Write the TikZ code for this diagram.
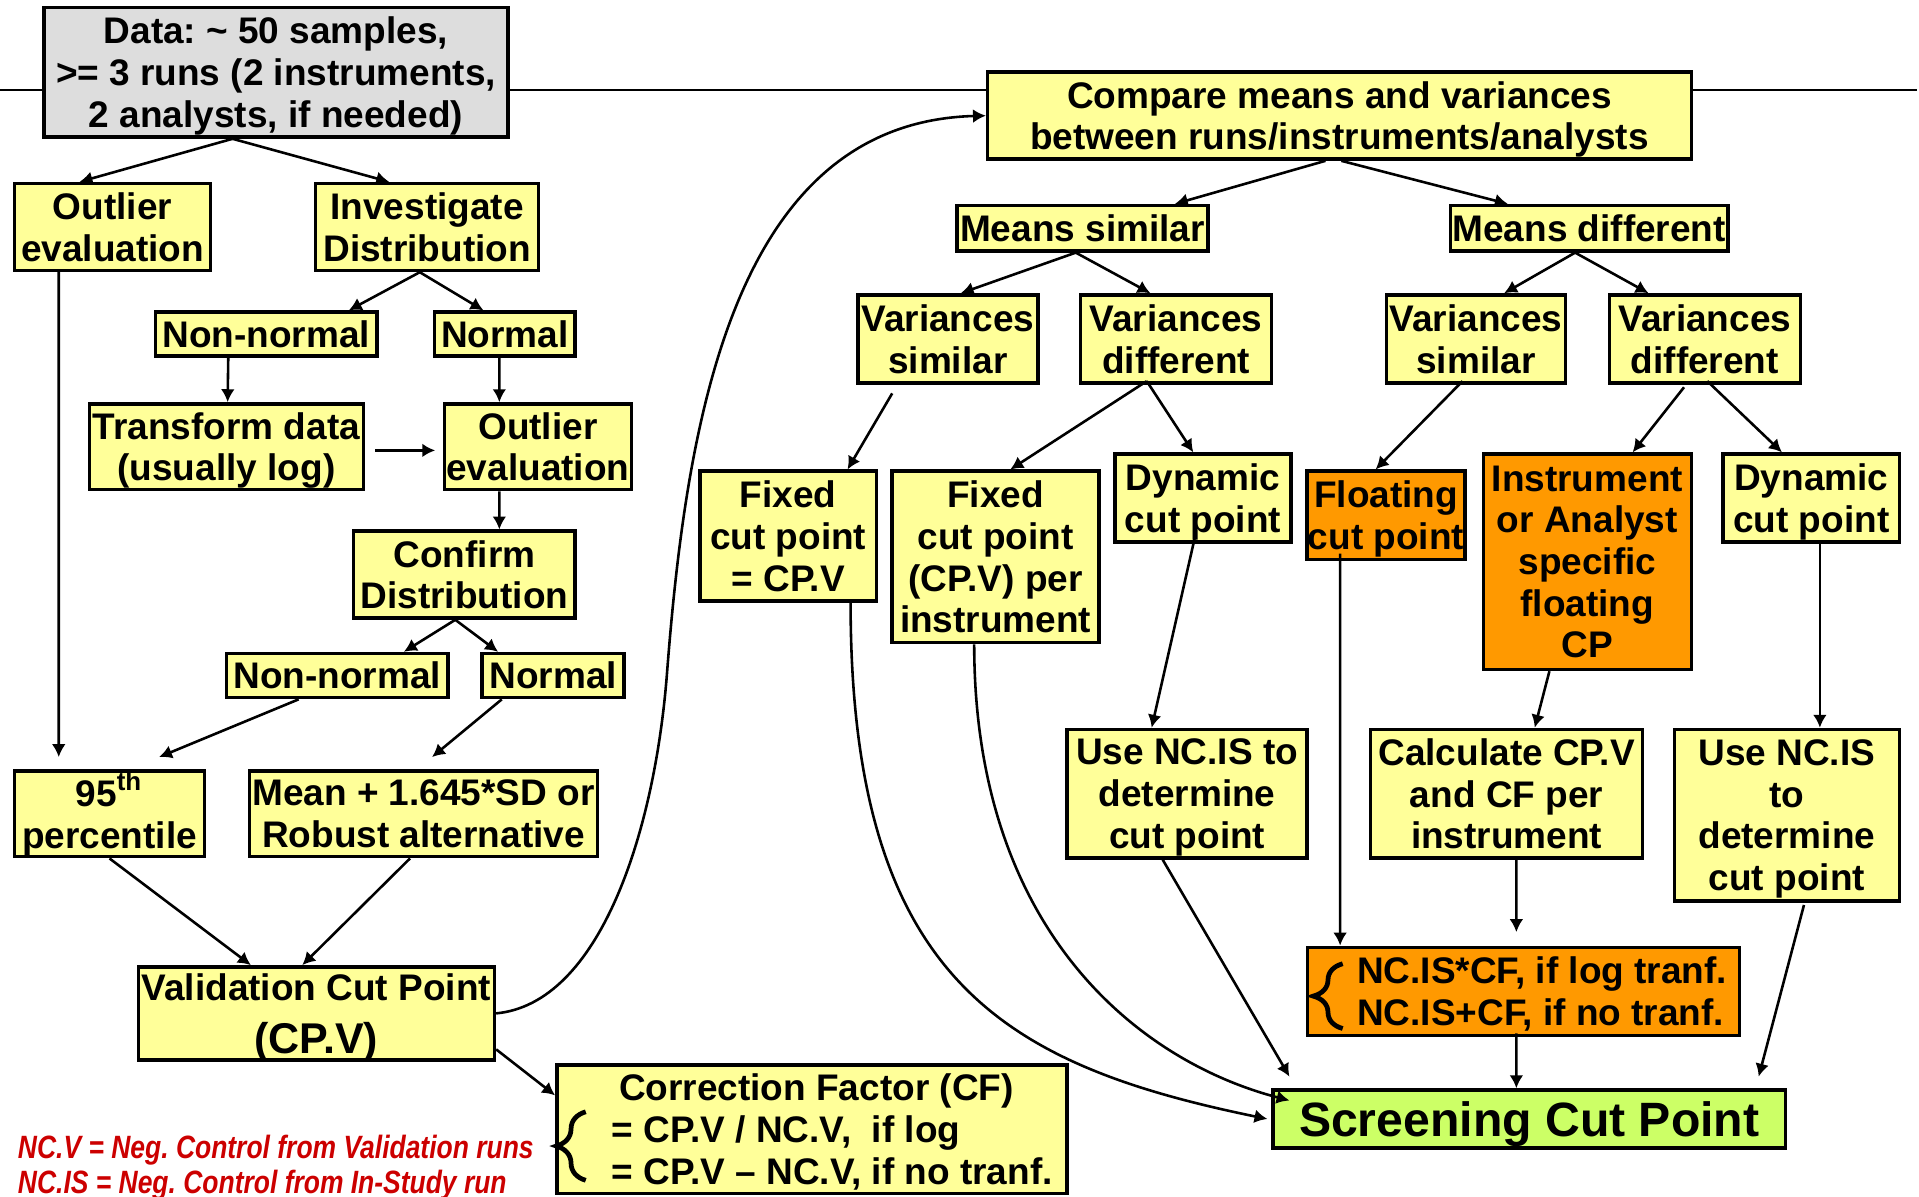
\documentclass[tikz,border=0pt]{standalone}
\usepackage{fontspec}
\setmainfont{Liberation Sans}
\newfontfamily\notefont[FakeStretch=0.82]{Liberation Sans}
\usetikzlibrary{arrows.meta,decorations.pathreplacing}
\definecolor{boxyellow}{HTML}{FFFF99}
\definecolor{boxorange}{HTML}{FF9900}
\definecolor{boxgray}{HTML}{DDDDDD}
\definecolor{boxgreen}{HTML}{CCFF66}
\definecolor{notered}{HTML}{CC0000}
\frenchspacing

\begin{document}
\begin{tikzpicture}[y=-1cm]
\tikzset{link/.style = {->,> = {Latex[length=3pt,width=3.2pt]}, line width=0.6pt},
  box/.style = {draw=black, line width=0.8pt, fill=boxyellow, align=center, inner sep=0pt,
    text depth=0pt, font=\fontsize{8.6}{9.7}\selectfont\bfseries},
  brc/.style = {decorate, decoration={brace, amplitude=0.24cm}, line width=1.1pt}}

\useasboundingbox (0,0) rectangle (15.68,9.78);
\draw[line width=0.6pt] (0,0.735) -- (15.66,0.735);

% left branch: validation cut point
\node[box, fill=boxgray, minimum width=3.79cm, minimum height=1.06cm] (data) at (2.255,0.59) {Data: \textasciitilde{} 50 samples,\\>= 3 runs (2 instruments,\\2 analysts, if needed)};
\node[box, minimum width=1.60cm, minimum height=0.71cm] (outA) at (0.92,1.855) {Outlier\\evaluation};
\node[box, minimum width=1.82cm, minimum height=0.71cm] (invD) at (3.49,1.855) {Investigate\\Distribution};
\node[box, minimum width=1.81cm, minimum height=0.36cm] (nonA) at (2.175,2.73) {Non-normal};
\node[box, minimum width=1.15cm, minimum height=0.36cm] (norA) at (4.125,2.73) {Normal};
\node[box, minimum width=2.24cm, minimum height=0.70cm] (trans) at (1.85,3.65) {Transform data\\(usually log)};
\node[box, minimum width=1.53cm, minimum height=0.70cm] (outB) at (4.395,3.65) {Outlier\\evaluation};
\node[box, minimum width=1.81cm, minimum height=0.71cm] (conf) at (3.795,4.695) {Confirm\\Distribution};
\node[box, minimum width=1.81cm, minimum height=0.36cm] (nonB) at (2.755,5.52) {Non-normal};
\node[box, minimum width=1.16cm, minimum height=0.36cm] (norB) at (4.52,5.52) {Normal};
\node[box, text depth=1.7pt, minimum width=1.55cm, minimum height=0.70cm] (pct) at (0.895,6.65) {95\textsuperscript{th}\\percentile};
\node[box, minimum width=2.84cm, minimum height=0.70cm] (msd) at (3.46,6.65) {Mean + 1.645*SD or\\Robust alternative};
\node[box, minimum width=2.91cm, minimum height=0.76cm] (cpv) at (2.585,8.28) {Validation Cut Point\\[2.5pt]{\fontsize{10}{11}\selectfont (CP.V)}};
\node[box, align=left, minimum width=4.17cm, minimum height=1.05cm] (corr) at (6.635,9.225) {\hspace*{3.9mm}Correction Factor (CF)\\\hspace*{3.3mm}= CP.V / NC.V,\ \ if log\\\hspace*{3.3mm}= CP.V -- NC.V, if no tranf.};
\node[anchor=west, align=left, inner sep=0pt, text=notered, font=\notefont\fontsize{7.5}{6.8}\selectfont\bfseries\itshape] (note) at (0.14,9.54) {NC.V = Neg. Control from Validation runs\\NC.IS = Neg. Control from In-Study run};

% right branch: screening cut point
\node[box, minimum width=5.75cm, minimum height=0.71cm] (comp) at (10.945,0.945) {Compare means and variances\\between runs/instruments/analysts};
\node[box, minimum width=2.05cm, minimum height=0.37cm] (msim) at (8.845,1.865) {Means similar};
\node[box, minimum width=2.27cm, minimum height=0.37cm] (mdif) at (12.985,1.865) {Means different};
\node[box, minimum width=1.47cm, minimum height=0.72cm] (vsimA) at (7.745,2.77) {Variances\\similar};
\node[box, minimum width=1.56cm, minimum height=0.72cm] (vdifA) at (9.61,2.77) {Variances\\different};
\node[box, minimum width=1.46cm, minimum height=0.72cm] (vsimB) at (12.06,2.77) {Variances\\similar};
\node[box, minimum width=1.56cm, minimum height=0.72cm] (vdifB) at (13.93,2.77) {Variances\\different};
\node[box, minimum width=1.44cm, minimum height=1.06cm] (fixA) at (6.44,4.38) {Fixed\\cut point\\= CP.V};
\node[box, minimum width=1.69cm, minimum height=1.40cm] (fixB) at (8.135,4.55) {Fixed\\cut point\\(CP.V) per\\instrument};
\node[box, minimum width=1.44cm, minimum height=0.72cm] (dynA) at (9.83,4.07) {Dynamic\\cut point};
\node[box, fill=boxorange, minimum width=1.29cm, minimum height=0.72cm] (flt) at (11.325,4.21) {Floating\\cut point};
\node[box, fill=boxorange, minimum width=1.70cm, minimum height=1.76cm] (inst) at (12.97,4.59) {Instrument\\or Analyst\\specific\\floating\\CP};
\node[box, minimum width=1.44cm, minimum height=0.72cm] (dynB) at (14.80,4.07) {Dynamic\\cut point};
\node[box, minimum width=1.96cm, minimum height=1.05cm] (useA) at (9.70,6.485) {Use NC.IS to\\determine\\cut point};
\node[box, minimum width=2.22cm, minimum height=1.05cm] (calc) at (12.31,6.485) {Calculate CP.V\\and CF per\\instrument};
\node[box, minimum width=1.84cm, minimum height=1.40cm] (useB) at (14.60,6.66) {Use NC.IS\\to\\determine\\cut point};
\node[box, fill=boxorange, align=left, minimum width=3.53cm, minimum height=0.72cm] (ncis) at (12.45,8.10) {\hspace*{3mm}NC.IS*CF, if log tranf.\\\hspace*{3mm}NC.IS+CF, if no tranf.};
\node[box, fill=boxgreen, minimum width=4.19cm, minimum height=0.474cm, font=\fontsize{11.2}{13}\selectfont\bfseries] (scp) at (12.495,9.143) {Screening Cut Point};

\draw[brc] ([xshift=0.25cm,yshift=0.12cm]corr.south west) -- ([xshift=0.25cm,yshift=0.68cm]corr.south west);
\draw[brc] ([xshift=0.30cm,yshift=0.07cm]ncis.south west) -- ([xshift=0.30cm,yshift=0.60cm]ncis.south west);

\draw[link] ([xshift=-0.355cm]data.south) -- ([xshift=-0.27cm]outA.north);
\draw[link] ([xshift=-0.355cm]data.south) -- ([xshift=-0.31cm]invD.north);
\draw[link] ([xshift=-0.06cm]invD.south) -- ([xshift=0.675cm]nonA.north);
\draw[link] ([xshift=-0.06cm]invD.south) -- ([xshift=-0.175cm]norA.north);
\draw[link] ([xshift=-0.31cm]nonA.south) -- ([xshift=0.01cm]trans.north);
\draw[link] ([xshift=-0.045cm]norA.south) -- ([xshift=-0.315cm]outB.north);
\draw[link] ([xshift=0.08cm,yshift=-0.03cm]trans.east) -- ([xshift=-0.06cm,yshift=-0.03cm]outB.west);
\draw[link] ([xshift=-0.315cm]outB.south) -- ([xshift=0.285cm]conf.north);
\draw[link] ([xshift=-0.075cm]conf.south) -- ([xshift=0.545cm]nonB.north);
\draw[link] ([xshift=-0.075cm]conf.south) -- ([xshift=-0.45cm]norB.north);
\draw[link] ([xshift=-0.44cm]outA.south) -- ([xshift=-0.415cm,yshift=0.1cm]pct.north);
\draw[link] ([xshift=-0.315cm]nonB.south) -- ([xshift=0.405cm,yshift=0.1cm]pct.north);
\draw[link] ([xshift=-0.42cm]norB.south) -- ([xshift=0.07cm,yshift=0.1cm]msd.north);
\draw[link] (pct.south) -- ([xshift=-0.535cm]cpv.north);
\draw[link] ([xshift=-0.11cm]msd.south) -- ([xshift=-0.115cm]cpv.north);
\draw[link] (cpv.east) .. controls (4.9,8.2) and (5.35,6.8) .. (5.45,5.5) .. controls (5.61,3.42) and (6.0,1.0) .. (comp.west);
\draw[link] ([yshift=0.10cm]cpv.south east) -- ([yshift=0.275cm]corr.west);

\draw[link] ([xshift=-0.115cm]comp.south) -- ([xshift=0.755cm]msim.north);
\draw[link] ([xshift=0.015cm]comp.south) -- ([xshift=-0.665cm]mdif.north);
\draw[link] ([xshift=-0.055cm]msim.south) -- ([xshift=0.105cm]vsimA.north);
\draw[link] ([xshift=-0.055cm]msim.south) -- ([xshift=-0.21cm]vdifA.north);
\draw[link] ([xshift=-0.115cm]mdif.south) -- ([xshift=0.23cm]vsimB.north);
\draw[link] ([xshift=-0.115cm]mdif.south) -- ([xshift=-0.46cm]vdifB.north);
\draw[link] ([xshift=-0.455cm,yshift=-0.07cm]vsimA.south) -- ([xshift=0.485cm]fixA.north);
\draw[link] ([xshift=-0.24cm,yshift=0.03cm]vdifA.south) -- ([xshift=0.12cm]fixB.north);
\draw[link] ([xshift=-0.24cm,yshift=0.03cm]vdifA.south) -- ([xshift=-0.08cm]dynA.north);
\draw[link] ([xshift=-0.11cm,yshift=0.03cm]vsimB.south) -- ([xshift=-0.085cm]flt.north);
\draw[link] ([xshift=-0.17cm,yshift=-0.02cm]vdifB.south) -- ([xshift=0.37cm]inst.north);
\draw[link] ([xshift=0.02cm,yshift=0.03cm]vdifB.south) -- ([xshift=-0.24cm]dynB.north);
\draw[link] ([xshift=-0.07cm,yshift=0.04cm]dynA.south) -- ([xshift=-0.29cm]useA.north);
\draw[link] ([xshift=-0.31cm]inst.south) -- ([xshift=0.23cm]calc.north);
\draw[link] ([xshift=0.07cm]dynB.south) -- ([xshift=0.27cm]useB.north);
\draw[link] ([xshift=-0.375cm,yshift=0.06cm]flt.south) -- ([xshift=-1.50cm]ncis.north);
\draw[link] ([xshift=0.08cm]calc.south) -- ([xshift=-0.06cm,yshift=0.11cm]ncis.north);
\draw[link] ([xshift=-0.06cm,yshift=0.03cm]ncis.south) -- ([xshift=-0.105cm]scp.north);
\draw[link] ([xshift=0.14cm,yshift=-0.02cm]useB.south) -- ([xshift=1.875cm,yshift=0.095cm]scp.north);
\draw[link] ([xshift=-0.20cm]useA.south) -- ([xshift=0.15cm,yshift=0.095cm]scp.north west);
\draw[link] ([xshift=0.51cm]fixA.south) .. controls (6.95,8.0) and (8.2,8.7) .. ([xshift=-0.03cm]scp.west);
\draw[link] ([xshift=-0.175cm]fixB.south) .. controls (7.96,7.6) and (9.3,8.67) .. ([xshift=0.15cm,yshift=-0.10cm]scp.north west);
\end{tikzpicture}
\end{document}
